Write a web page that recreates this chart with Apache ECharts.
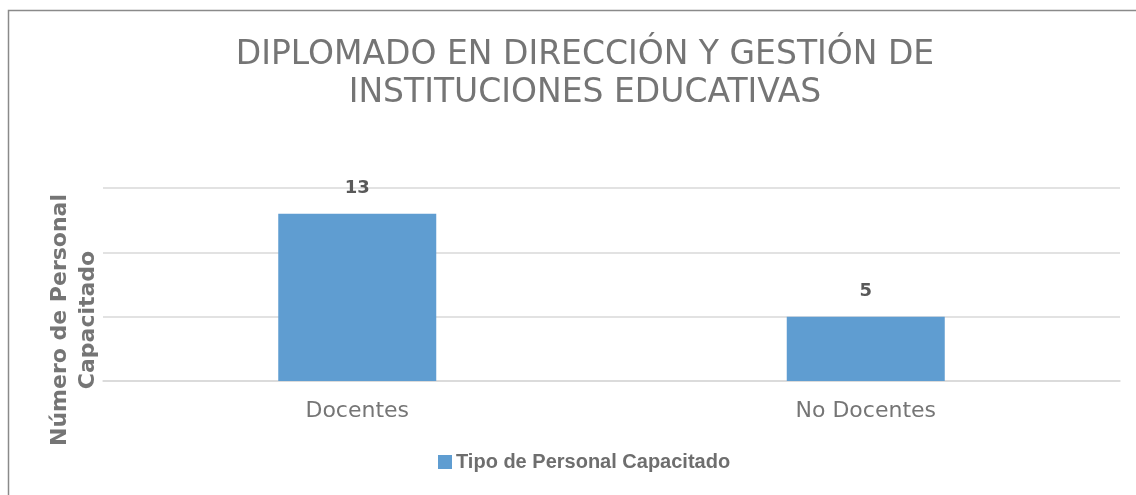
<!DOCTYPE html>
<html>
<head>
<meta charset="utf-8">
<script src="https://cdn.jsdelivr.net/npm/echarts@6/dist/echarts.min.js"></script>
<style>
  html, body { margin: 0; padding: 0; background: #fff; }
  #chart { width: 1136px; height: 495px; }
</style>
</head>
<body>
<div id="chart"></div>
<script>
var categories = ["Docentes", "No Docentes"];
var values = [13, 5];
var seriesName = "Tipo de Personal Capacitado";
var titleText = "DIPLOMADO EN DIRECCIÓN Y GESTIÓN DE\nINSTITUCIONES EDUCATIVAS";
var yName = "Número de Personal\nCapacitado";

var chart = echarts.init(document.getElementById("chart"));

var option = {
  animation: false,
  title: {
    text: titleText,
    left: 580,
    top: 31,
    textAlign: "center",
    textStyle: {
      fontFamily: "DejaVu Sans",
      fontWeight: "normal",
      fontSize: 33,
      lineHeight: 38,
      color: "#757575"
    }
  },
  legend: {
    bottom: 18,
    left: 433,
    itemWidth: 14,
    itemHeight: 14,
    icon: "rect",
    itemGap: 4,
    textStyle: {
      fontFamily: "Liberation Sans",
      fontWeight: "bold",
      fontSize: 20,
      color: "#6e6e6e",
      padding: [0, 0, 0, -1]
    },
    data: [seriesName]
  },
  grid: {
    left: 103,
    right: 16,
    top: 188,
    bottom: 114,
    containLabel: false
  },
  xAxis: {
    type: "category",
    data: categories,
    axisLine: { lineStyle: { color: "#d9d9d9", width: 1.5 } },
    axisTick: { show: false },
    axisLabel: {
      margin: 19,
      fontFamily: "DejaVu Sans",
      fontSize: 22,
      color: "#757575"
    }
  },
  yAxis: {
    type: "value",
    min: 0,
    max: 15,
    interval: 5,
    axisLabel: { show: false },
    axisLine: { show: false },
    axisTick: { show: false },
    splitLine: { lineStyle: { color: "#d9d9d9", width: 1.5 } }
  },
  graphic: [
    {
      type: "rect",
      silent: true,
      shape: { x: 8.5, y: 10.5, width: 1300, height: 700 },
      style: { fill: null, stroke: "#8a8a8a", lineWidth: 1.5 }
    },
    {
      type: "text",
      silent: true,
      x: 74,
      y: 320,
      rotation: Math.PI / 2,
      style: {
        text: yName,
        fontFamily: "DejaVu Sans",
        fontWeight: "bold",
        fontSize: 22,
        lineHeight: 28,
        fill: "#757575",
        align: "center",
        verticalAlign: "middle"
      }
    }
  ],
  series: [
    {
      name: seriesName,
      type: "bar",
      data: values,
      barWidth: 158,
      itemStyle: { color: "#5f9dd1" },
      label: {
        show: true,
        position: "top",
        distance: 16,
        fontFamily: "DejaVu Sans",
        fontWeight: "bold",
        fontSize: 18,
        color: "#595959"
      }
    }
  ]
};

chart.setOption(option);
</script>
</body>
</html>
